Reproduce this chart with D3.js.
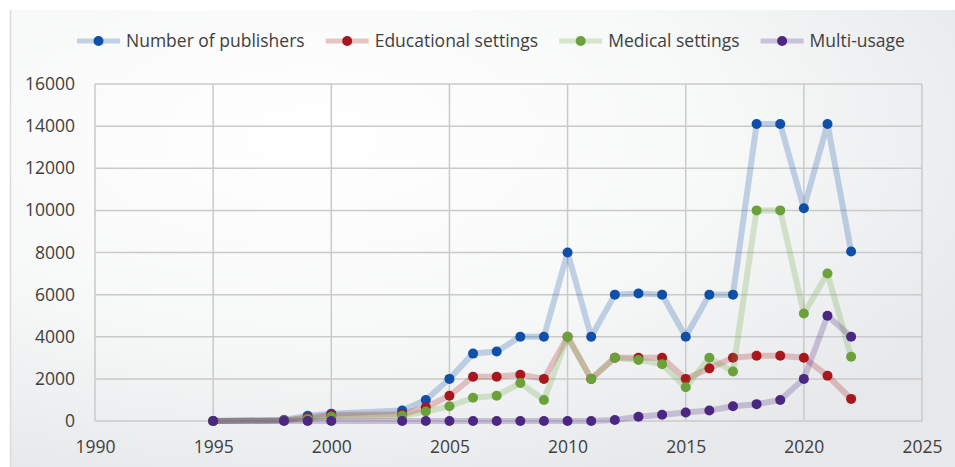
<!DOCTYPE html>
<html>
<head>
<meta charset="utf-8">
<script src="https://cdn.jsdelivr.net/npm/d3@7"></script>
<style>
  html, body { margin:0; padding:0; background:#fff; }
  #graph { width:955px; height:467px; }
  text { font-family: "Open Sans", "Noto Sans", sans-serif; fill:#404040; }
</style>
</head>
<body>
<div id="graph"></div>
<script>
// data
var years = [1995, 1998, 1999, 2000, 2003, 2004, 2005, 2006, 2007, 2008, 2009, 2010, 2011, 2012, 2013, 2014, 2015, 2016, 2017, 2018, 2019, 2020, 2021, 2022]
var publishers  = [0, 50, 250, 350, 500, 1000, 2000, 3200, 3300, 4000, 4000, 8000, 4000, 6000, 6050, 6000, 4000, 6000, 6000, 14100, 14100, 10100, 14100, 8050]
var educational = [0, 30, 150, 280, 320, 650, 1200, 2100, 2100, 2200, 2000, 4000, 2000, 3000, 3000, 3000, 2000, 2500, 3000, 3100, 3100, 3000, 2150, 1050]
var medical     = [0, 20, 100, 200, 250, 450, 700, 1100, 1200, 1800, 1000, 4000, 2000, 3000, 2900, 2700, 1600, 3000, 2350, 10000, 10000, 5100, 7000, 3050]
var multiUsage  = [0, 0, 0, 0, 0, 0, 0, 0, 0, 0, 0, 0, 0, 50, 200, 300, 400, 500, 700, 800, 1000, 2000, 5000, 4000]

var seriesNames = ["Number of publishers", "Educational settings", "Medical settings", "Multi-usage"]
var seriesValues = [publishers, educational, medical, multiUsage]
var seriesColors = ["#0f4fa8", "#a8171d", "#6aa13a", "#4b2683"]

var xTicks = [1990, 1995, 2000, 2005, 2010, 2015, 2020, 2025]
var yTicks = [0, 2000, 4000, 6000, 8000, 10000, 12000, 14000, 16000]

var width = 955, height = 467
var margin = {top:84, left:95, bottom:46, right:33}
var chartWidth = width - margin.left - margin.right
var chartHeight = height - margin.top - margin.bottom

var svg = d3.select("#graph").append("svg")
    .attr("width", width).attr("height", height)

// background panel with soft gradient
var defs = svg.append("defs")
var grad = defs.append("radialGradient")
    .attr("id", "bg")
    .attr("cx", "32%").attr("cy", "28%").attr("r", "80%")
grad.append("stop").attr("offset", "0%").attr("stop-color", "#ffffff")
grad.append("stop").attr("offset", "55%").attr("stop-color", "#f7f8f8")
grad.append("stop").attr("offset", "100%").attr("stop-color", "#e6e8ea")

svg.append("rect")
    .attr("x", 10).attr("y", 10)
    .attr("width", width - 10).attr("height", height - 10)
    .attr("fill", "url(#bg)")
svg.append("line")
    .attr("x1", 10.5).attr("x2", 10.5).attr("y1", 10).attr("y2", height)
    .attr("stroke", "#dcdcdc").attr("stroke-width", 1.5)

var x = d3.scaleLinear().domain([1990, 2025]).range([0, chartWidth])
var y = d3.scaleLinear().domain([0, 16000]).range([chartHeight, 0])

var chartLayer = svg.append("g")
    .attr("transform", "translate(" + [margin.left, margin.top] + ")")

// grid
chartLayer.append("g").selectAll("line.h")
    .data(yTicks).enter().append("line")
    .attr("x1", 0).attr("x2", chartWidth)
    .attr("y1", function(d) { return y(d) }).attr("y2", function(d) { return y(d) })
    .attr("stroke", "#cacaca").attr("stroke-width", 1.5)

chartLayer.append("g").selectAll("line.v")
    .data(xTicks).enter().append("line")
    .attr("x1", function(d) { return x(d) }).attr("x2", function(d) { return x(d) })
    .attr("y1", 0).attr("y2", chartHeight)
    .attr("stroke", "#cacaca").attr("stroke-width", 1.5)

// axes labels
var yAxis = d3.axisLeft(y).tickValues(yTicks).tickSize(0).tickPadding(20).tickFormat(d3.format("d"))
var xAxis = d3.axisBottom(x).tickValues(xTicks).tickSize(0).tickPadding(20).tickFormat(d3.format("d"))

var gy = chartLayer.append("g").call(yAxis)
var gx = chartLayer.append("g").attr("transform", "translate(0," + chartHeight + ")").call(xAxis)
;[gx, gy].forEach(function(g) {
    g.select(".domain").remove()
    g.selectAll("text")
        .style("font-size", "17.5px")
        .attr("fill", "#404040")
        .style("font-family", "'Open Sans', sans-serif")
})

// series
var line = d3.line()
    .x(function(d, i) { return x(years[i]) })
    .y(function(d) { return y(d) })

seriesValues.forEach(function(vals, s) {
    var g = chartLayer.append("g").attr("class", "series")
    g.append("path")
        .datum(vals)
        .attr("d", line)
        .attr("fill", "none")
        .attr("stroke", seriesColors[s])
        .attr("stroke-opacity", 0.24)
        .attr("stroke-width", 6)
        .attr("stroke-linejoin", "round")
    g.selectAll("circle")
        .data(vals).enter().append("circle")
        .attr("cx", function(d, i) { return x(years[i]) })
        .attr("cy", function(d) { return y(d) })
        .attr("r", 5)
        .attr("fill", seriesColors[s])
})

// legend
var legend = svg.append("g").attr("transform", "translate(77,41)")
var lx = 0
seriesNames.forEach(function(name, s) {
    var item = legend.append("g").attr("transform", "translate(" + lx + ",0)")
    item.append("line")
        .attr("x1", 0).attr("x2", 43).attr("y1", 0).attr("y2", 0)
        .attr("stroke", seriesColors[s]).attr("stroke-opacity", 0.24)
        .attr("stroke-width", 5)
    item.append("circle")
        .attr("cx", 21.5).attr("cy", 0).attr("r", 5)
        .attr("fill", seriesColors[s])
    var t = item.append("text")
        .attr("x", 49).attr("y", 0).attr("dy", "0.35em")
        .style("font-size", "17.5px")
        .text(name)
    lx += 49 + t.node().getComputedTextLength() + 21
})
</script>
</body>
</html>
